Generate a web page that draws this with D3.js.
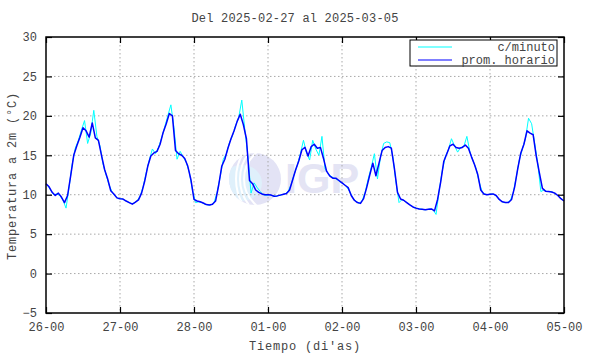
<!DOCTYPE html>
<meta charset="utf-8">
<script src="https://d3js.org/d3.v7.min.js"></script>
<style>
    body { margin: 0; background: #fff; }
    text { font-family: "Liberation Mono", "DejaVu Sans Mono", monospace; fill: #444; }
</style>
<div id="my_dataviz"></div>
<script>

    // hourly average (prom. horario), one array per day, values at hh:00
    var prom26 = [11.4, 11.0, 10.3, 9.9, 10.2, 9.7, 9.0, 9.9, 12.4, 15.0, 16.2, 17.3, 18.5, 18.1, 17.3, 19.1, 17.2, 16.9, 15.0, 13.2, 12.0, 10.5, 10.1, 9.6]
    var prom27 = [9.5, 9.45, 9.2, 9.0, 8.8, 9.05, 9.35, 10.2, 11.7, 13.6, 14.9, 15.3, 15.5, 16.4, 17.9, 19.0, 20.3, 20.0, 15.6, 15.2, 15.0, 14.6, 13.6, 11.9]
    var prom28 = [9.4, 9.2, 9.1, 8.95, 8.75, 8.7, 8.8, 9.2, 11.2, 13.6, 14.5, 15.9, 17.1, 18.1, 19.3, 20.2, 18.9, 17.1, 11.8, 11.4, 10.6, 10.3, 10.1, 10.0]
    var prom01 = [10.0, 9.95, 9.8, 9.85, 9.95, 10.05, 10.15, 10.6, 11.9, 13.2, 14.3, 15.7, 16.0, 14.9, 16.1, 16.4, 15.9, 16.0, 14.6, 13.0, 12.4, 12.1, 12.1, 11.8]
    var prom02 = [11.5, 11.2, 10.9, 9.9, 9.3, 9.0, 8.9, 9.5, 10.9, 12.5, 14.0, 12.4, 14.0, 15.6, 16.0, 16.1, 15.9, 13.3, 10.3, 9.45, 9.3, 9.0, 8.7, 8.45]
    var prom03 = [8.3, 8.2, 8.15, 8.1, 8.15, 8.2, 7.95, 9.4, 11.6, 14.2, 15.2, 16.2, 16.4, 16.0, 15.9, 16.0, 16.3, 15.9, 14.8, 13.8, 12.6, 10.6, 10.1, 10.0]
    var prom04 = [10.05, 10.1, 9.9, 9.4, 9.1, 9.0, 9.0, 9.4, 11.0, 13.3, 15.3, 16.4, 18.1, 17.8, 17.6, 14.9, 12.8, 10.8, 10.45, 10.4, 10.35, 10.2, 9.9, 9.5]
    var prom05 = [9.2]

    // per-minute readings (c/minuto), sampled at hh:30 of each hour
    var min26 = [11.2, 10.6, 10.0, 10.1, 9.9, 9.3, 8.3, 11.0, 13.9, 15.9, 16.9, 18.2, 19.4, 16.5, 17.8, 20.7, 17.4, 16.2, 13.9, 12.5, 11.2, 10.3, 9.8, 9.5]
    var min27 = [9.5, 9.3, 9.1, 8.9, 8.9, 9.2, 9.8, 11.0, 12.8, 14.4, 15.8, 15.2, 16.0, 17.2, 18.6, 20.0, 21.4, 18.5, 14.5, 15.5, 14.8, 14.1, 12.8, 10.6]
    var min28 = [9.0, 9.1, 9.0, 8.8, 8.7, 8.7, 9.0, 10.3, 12.3, 14.5, 15.2, 16.6, 17.5, 18.8, 19.8, 22.0, 18.2, 14.8, 10.2, 11.5, 10.9, 10.4, 10.0, 9.9]
    var min01 = [10.0, 9.85, 9.8, 9.9, 10.0, 10.1, 10.4, 11.3, 12.6, 13.7, 15.2, 16.9, 15.3, 14.4, 16.9, 15.8, 15.0, 17.4, 13.3, 12.7, 12.3, 12.1, 11.9, 11.6]
    var min02 = [11.4, 11.0, 10.4, 9.6, 9.2, 8.9, 9.2, 10.3, 12.0, 13.5, 15.2, 12.0, 14.8, 16.5, 16.7, 16.6, 14.8, 11.6, 9.0, 9.4, 9.15, 8.85, 8.6, 8.35]
    var min03 = [8.25, 8.2, 8.1, 8.1, 8.2, 8.1, 7.5, 10.5, 13.0, 14.8, 15.7, 17.1, 16.2, 15.4, 16.0, 16.1, 17.4, 15.4, 14.3, 13.3, 11.6, 10.3, 10.05, 10.0]
    var min04 = [10.1, 10.0, 9.6, 9.2, 9.0, 9.0, 9.2, 10.2, 12.2, 14.4, 15.8, 17.1, 19.7, 19.0, 16.5, 13.9, 10.4, 10.6, 10.4, 10.4, 10.3, 10.05, 9.7, 9.35]

    var yTicks = [-5, 0, 5, 10, 15, 20, 25, 30]
    var legendNames = ["c/minuto", "prom. horario"]
    var legendColors = ["#00ffff", "#0000ff"]

    var W = 590, H = 354
    var margin = { top: 37, right: 26, bottom: 41, left: 46 }
    var width = W - margin.left - margin.right,
        height = H - margin.top - margin.bottom

    var svg = d3.select("#my_dataviz")
        .append("svg")
        .attr("width", W)
        .attr("height", H)

    var g = svg.append("g")
        .attr("transform", "translate(" + margin.left + "," + margin.top + ")")

    var t0 = Date.UTC(2025, 1, 26), t1 = Date.UTC(2025, 2, 5)
    var HOUR = 3600000

    var promData = [].concat(prom26, prom27, prom28, prom01, prom02, prom03, prom04, prom05)
        .map(function (v, i) { return { t: new Date(t0 + i * HOUR), v: v } })
    var minData = [].concat(min26, min27, min28, min01, min02, min03, min04)
        .map(function (v, i) { return { t: new Date(t0 + (i + 0.5) * HOUR), v: v } })

    var x = d3.scaleUtc().domain([t0, t1]).range([0, width])
    var y = d3.scaleLinear().domain([-5, 30]).range([height, 0])
    var dayTicks = d3.utcDay.range(new Date(t0), new Date(t1 + 1))

    // watermark (IGP logo)
    var wm = g.append("g").attr("class", "watermark")
    wm.append("circle").attr("cx", 209).attr("cy", 142).attr("r", 26).style("fill", "#e3e3f5")
    wm.append("clipPath").attr("id", "wmclip")
        .append("circle").attr("cx", 209).attr("cy", 142).attr("r", 26)
    var wmc = wm.append("g").attr("clip-path", "url(#wmclip)")
    wmc.append("ellipse").attr("cx", 196).attr("cy", 146).attr("rx", 20).attr("ry", 18).style("fill", "#dff0fb")
    ;[[232, 142, 34], [236, 142, 42], [240, 142, 50]].forEach(function (c) {
        wmc.append("circle").attr("cx", c[0]).attr("cy", c[1]).attr("r", c[2])
            .style("fill", "none").style("stroke", "#fff").style("stroke-width", 2)
    })
    wm.append("text").attr("x", 239).attr("y", 156)
        .style("font-family", "'Liberation Sans', Arial, sans-serif")
        .style("font-weight", "bold").style("font-size", "43px")
        .style("fill", "#e4e4f4").text("IGP")

    // grid
    g.append("g").selectAll("line").data(dayTicks.slice(1, -1)).enter().append("line")
        .attr("x1", function (d) { return x(d) }).attr("x2", function (d) { return x(d) })
        .attr("y1", 0).attr("y2", height)
        .style("stroke", "#a8a8a8").style("stroke-dasharray", "1.5,2.5")
    g.append("g").selectAll("line").data(yTicks.slice(1, -1)).enter().append("line")
        .attr("x1", 0).attr("x2", width)
        .attr("y1", function (d) { return y(d) }).attr("y2", function (d) { return y(d) })
        .style("stroke", "#a8a8a8").style("stroke-dasharray", "1.5,2.5")

    // series
    var line = d3.line()
        .x(function (d) { return x(d.t) })
        .y(function (d) { return y(d.v) })
    g.append("path").datum(minData).attr("d", line)
        .style("fill", "none").style("stroke", legendColors[0]).style("stroke-width", 1)
    g.append("path").datum(promData).attr("d", line)
        .style("fill", "none").style("stroke", legendColors[1]).style("stroke-width", 1.5)
        .style("stroke-linejoin", "round")

    // axes, ticks pointing inward
    var fmt = d3.utcFormat("%d-%H")
    g.append("g").attr("transform", "translate(0," + height + ")")
        .call(d3.axisBottom(x).tickValues(dayTicks).tickFormat(fmt).tickSizeInner(-6).tickSizeOuter(0).tickPadding(9))
    g.append("g")
        .call(d3.axisTop(x).tickValues(dayTicks).tickFormat("").tickSizeInner(-6).tickSizeOuter(0))
    g.append("g")
        .call(d3.axisLeft(y).tickValues(yTicks).tickSizeInner(-6).tickSizeOuter(0).tickPadding(9))
    g.append("g").attr("transform", "translate(" + width + ",0)")
        .call(d3.axisRight(y).tickValues(yTicks).tickFormat("").tickSizeInner(-6).tickSizeOuter(0))
    g.selectAll(".domain").remove()
    g.selectAll(".tick line").style("stroke", "#000").style("stroke-width", 1.2)
    g.selectAll(".tick text").style("font-size", "12px").style("font-family", null).style("fill", "#444")

    g.append("rect").attr("width", width).attr("height", height)
        .style("fill", "none").style("stroke", "#000").style("stroke-width", 1.5)

    // legend
    var lg = svg.append("g").attr("transform", "translate(410,40)")
    lg.append("rect").attr("width", 147).attr("height", 26)
        .style("fill", "#fff").style("stroke", "#000").style("stroke-width", 1)
    lg.selectAll("line").data(legendNames).enter().append("line")
        .attr("x1", 8).attr("x2", 42)
        .attr("y1", function (d, i) { return 7 + i * 13 }).attr("y2", function (d, i) { return 7 + i * 13 })
        .style("stroke", function (d, i) { return legendColors[i] }).style("stroke-width", 1.2)
    lg.selectAll("text").data(legendNames).enter().append("text")
        .attr("x", 145).attr("y", function (d, i) { return 7 + i * 13 })
        .attr("dy", "0.35em").attr("text-anchor", "end")
        .style("font-size", "12px").text(function (d) { return d })

    // titles
    svg.append("text").attr("x", 295).attr("y", 22).attr("text-anchor", "middle")
        .style("font-size", "12px").style("letter-spacing", "0.2px").text("Del 2025-02-27 al 2025-03-05")
    svg.append("text").attr("x", 305).attr("y", 350).attr("text-anchor", "middle")
        .style("font-size", "12px").style("letter-spacing", "0.8px").text("Tiempo (di'as)")
    svg.append("text").attr("transform", "translate(16,176) rotate(-90)").attr("text-anchor", "middle")
        .style("font-size", "12px").style("letter-spacing", "0.8px").text("Temperatura a 2m (°C)")
</script>
